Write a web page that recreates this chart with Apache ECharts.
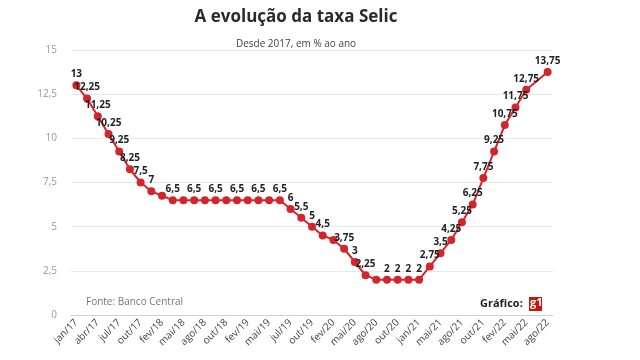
<!DOCTYPE html>
<html><head><meta charset="utf-8">
<script src="https://cdn.jsdelivr.net/npm/echarts@6/dist/echarts.min.js"></script>
<style>html,body{margin:0;padding:0;background:#fff}#c{width:640px;height:360px}</style>
</head><body><div id="c"></div>
<script>
const categories = [
  'jan/17','fev/17','abr/17','mai/17','jul/17','set/17','out/17','dez/17',
  'fev/18','mar/18','mai/18','jun/18','ago/18','set/18','out/18','dez/18',
  'fev/19','mar/19','mai/19','jun/19','jul/19','set/19','out/19','dez/19',
  'fev/20','mar/20','mai/20','jun/20','ago/20','set/20','out/20','dez/20',
  'jan/21','mar/21','mai/21','jun/21','ago/21','set/21','out/21','dez/21',
  'fev/22','mar/22','mai/22','jun/22','ago/22'
];
const selic = [
  13,12.25,11.25,10.25,9.25,8.25,7.5,7,
  6.75,6.5,6.5,6.5,6.5,6.5,6.5,6.5,
  6.5,6.5,6.5,6.5,6,5.5,5,4.5,
  4.25,3.75,3,2.25,2,2,2,2,
  2,2.75,3.5,4.25,5.25,6.25,7.75,9.25,
  10.75,11.75,12.75,13.25,13.75
];
// indices of points whose value label is not shown in the original
const unlabeled = [8,10,12,14,16,18,24,28,43];
const noSymbol = [43];
const yTicks = [0,2.5,5,7.5,10,12.5,15];

const fmt = v => String(v).replace('.', ',');
const seriesData = selic.map((v,i) => {
  const o = {value: v, label: {show: !unlabeled.includes(i)}};
  if (noSymbol.includes(i)) o.symbolSize = 0;
  return o;
});

const chart = echarts.init(document.getElementById('c'), null, {renderer:'canvas'});
chart.setOption({
  animation: false,
  backgroundColor: '#fff',
  textStyle: {fontFamily: 'Open Sans'},
  title: [
    {text: 'A evolução da taxa Selic', left: 291, top: 4, textAlign: 'center',
     textStyle: {fontFamily: 'Open Sans', fontSize: 17, fontWeight: 'bold', color: '#2b2b2b'}},
    {text: 'Desde 2017, em % ao ano', left: 291, top: 34, textAlign: 'center',
     textStyle: {fontFamily: 'Open Sans', fontSize: 10, fontWeight: 'normal', color: '#444'}}
  ],
  grid: {left: 71, right: 87, top: 50, bottom: 45, containLabel: false},
  xAxis: {
    type: 'category', data: categories, boundaryGap: true,
    axisLine: {lineStyle: {color: '#cfcfcf'}},
    axisTick: {alignWithLabel: true, interval: 1, length: 5, lineStyle: {color: '#cfcfcf'}},
    axisLabel: {interval: 1, rotate: 45, fontSize: 10, color: '#444', margin: 6, fontFamily: 'Open Sans'}
  },
  yAxis: {
    type: 'value', min: yTicks[0], max: yTicks[yTicks.length-1], interval: 2.5,
    axisLine: {show: false}, axisTick: {show: false},
    axisLabel: {formatter: fmt, fontSize: 10, color: '#999', margin: 14, fontFamily: 'Open Sans'},
    splitLine: {lineStyle: {color: '#e8e8e8'}}
  },
  series: [{
    type: 'line', data: seriesData, smooth: false, showAllSymbol: true,
    symbol: 'circle', symbolSize: 8,
    lineStyle: {color: '#d3262c', width: 2},
    itemStyle: {color: '#d3262c'},
    labelLayout: {hideOverlap: false},
    label: {show: true, position: 'top', distance: 2, formatter: p => fmt(p.value),
      fontSize: 10, fontWeight: 'bold', color: '#222', fontFamily: 'Open Sans'}
  }],
  graphic: [
    {type: 'text', left: 86, top: 297, style: {text: 'Fonte: Banco Central', fontSize: 10, fill: '#777', fontFamily: 'Open Sans'}},
    {type: 'text', left: 480, top: 298, style: {text: 'Gráfico:', fontSize: 11, fontWeight: 'bold', fill: '#222', fontFamily: 'Open Sans'}},
    {type: 'rect', left: 529, top: 297, shape: {width: 13, height: 14}, style: {fill: '#c4170c'}},
    {type: 'text', left: 530, top: 297, style: {text: 'g1', fontSize: 11, fontWeight: 'bold', fill: '#fff', fontFamily: 'Open Sans'}}
  ]
});
</script></body></html>
